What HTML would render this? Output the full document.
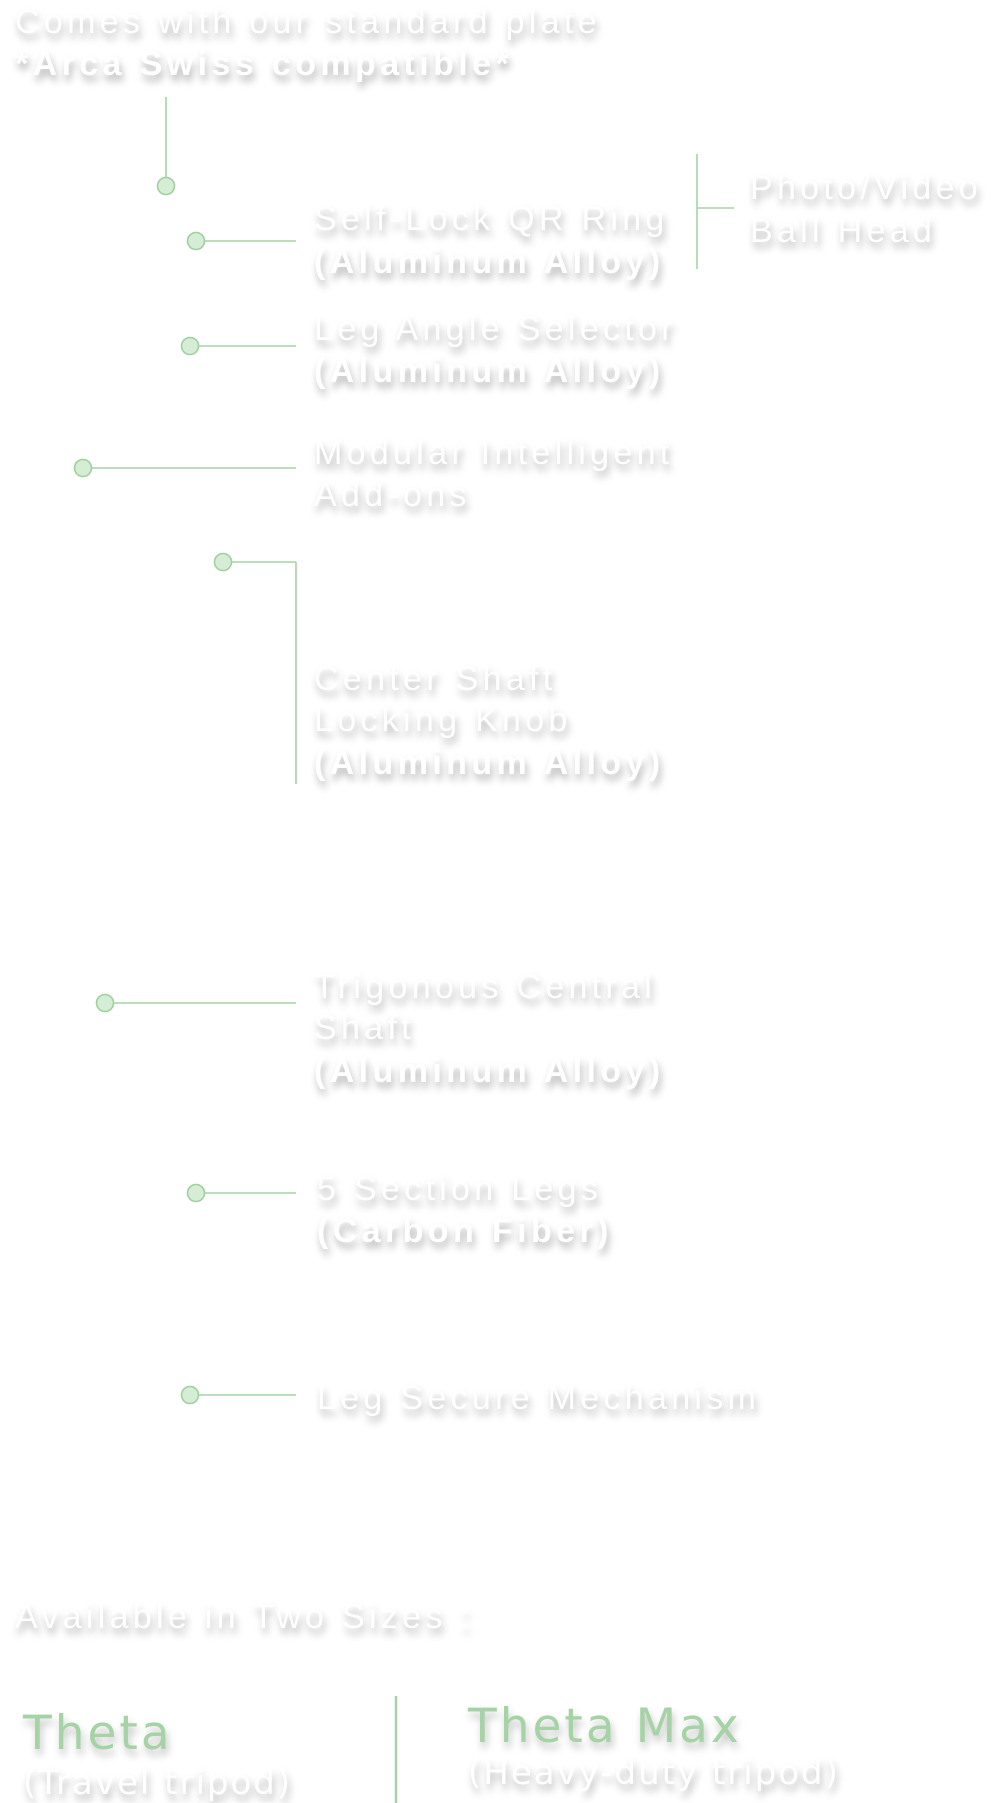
<!DOCTYPE html>
<html><head><meta charset="utf-8"><style>
html,body{margin:0;padding:0;background:#fff;}
body{width:996px;height:1803px;position:relative;overflow:hidden;font-family:"Liberation Sans",sans-serif;}
.t{position:absolute;color:#fff;font-size:34px;letter-spacing:4.3px;line-height:42px;white-space:nowrap;text-shadow:2px 6px 8px rgba(0,0,0,0.3);}
.b{font-weight:bold;letter-spacing:4.4px;}
.g{position:absolute;color:#a5d3a5;font-family:"DejaVu Sans",sans-serif;font-size:47px;letter-spacing:3px;white-space:nowrap;line-height:56px;text-shadow:2px 6px 8px rgba(0,0,0,0.25);}
.s{position:absolute;color:#fff;font-family:"DejaVu Sans",sans-serif;font-size:34px;letter-spacing:2px;white-space:nowrap;line-height:40px;text-shadow:2px 6px 8px rgba(0,0,0,0.3);}
svg{position:absolute;left:0;top:0;}
</style></head><body>
<svg width="996" height="1803">
<g stroke="#a6d4a6" stroke-width="1.6" fill="none">
<line x1="166" y1="97" x2="166" y2="178"/>
<line x1="204" y1="241" x2="296" y2="241"/>
<line x1="697" y1="154" x2="697" y2="269"/>
<line x1="697" y1="208" x2="734" y2="208"/>
<line x1="198" y1="346" x2="296" y2="346"/>
<line x1="91" y1="468" x2="296" y2="468"/>
<line x1="231" y1="562" x2="296" y2="562"/>
<line x1="296" y1="562" x2="296" y2="784"/>
<line x1="113" y1="1003" x2="296" y2="1003"/>
<line x1="204" y1="1193" x2="296" y2="1193"/>
<line x1="198" y1="1395" x2="296" y2="1395"/>
<line x1="396" y1="1696" x2="396" y2="1803" stroke-width="2.5"/>
</g>
<g fill="#d5edd5" stroke="#9fd09f" stroke-width="1.6">
<circle cx="166" cy="186" r="8.5"/>
<circle cx="196" cy="241" r="8.5"/>
<circle cx="190" cy="346" r="8.5"/>
<circle cx="83" cy="468" r="8.5"/>
<circle cx="223" cy="562" r="8.5"/>
<circle cx="105" cy="1003" r="8.5"/>
<circle cx="196" cy="1193" r="8.5"/>
<circle cx="190" cy="1395" r="8.5"/>
</g>
</svg>
<div class="t" style="left:15px;top:1px;">Comes with our standard plate</div>
<div class="t b" style="left:15px;top:43px;">*Arca Swiss compatible*</div>
<div class="t" style="left:314px;top:198px;">Self-Lock QR Ring</div>
<div class="t b" style="left:314px;top:241px;">(Aluminum Alloy)</div>
<div class="t" style="left:750px;top:167px;">Photo/Video</div>
<div class="t" style="left:750px;top:210px;">Ball Head</div>
<div class="t" style="left:314px;top:308px;">Leg Angle Selector</div>
<div class="t b" style="left:314px;top:350px;">(Aluminum Alloy)</div>
<div class="t" style="left:314px;top:432px;">Modular Intelligent</div>
<div class="t" style="left:314px;top:474px;">Add-ons</div>
<div class="t" style="left:314px;top:658px;">Center Shaft</div>
<div class="t" style="left:314px;top:699px;">Locking Knob</div>
<div class="t b" style="left:314px;top:742px;">(Aluminum Alloy)</div>
<div class="t" style="left:314px;top:966px;">Trigonous Central</div>
<div class="t" style="left:314px;top:1007px;">Shaft</div>
<div class="t b" style="left:314px;top:1050px;">(Aluminum Alloy)</div>
<div class="t" style="left:317px;top:1168px;">5 Section Legs</div>
<div class="t b" style="left:317px;top:1210px;">(Carbon Fiber)</div>
<div class="t" style="left:317px;top:1377px;">Leg Secure Mechanism</div>
<div class="t" style="left:15px;top:1596px;">Available in Two Sizes :</div>
<div class="g" style="left:23px;top:1706px;">Theta</div>
<div class="s" style="left:23px;top:1763px;">(Travel tripod)</div>
<div class="g" style="left:468px;top:1699px;">Theta Max</div>
<div class="s" style="left:468px;top:1753px;">(Heavy-duty tripod)</div>
</body></html>
